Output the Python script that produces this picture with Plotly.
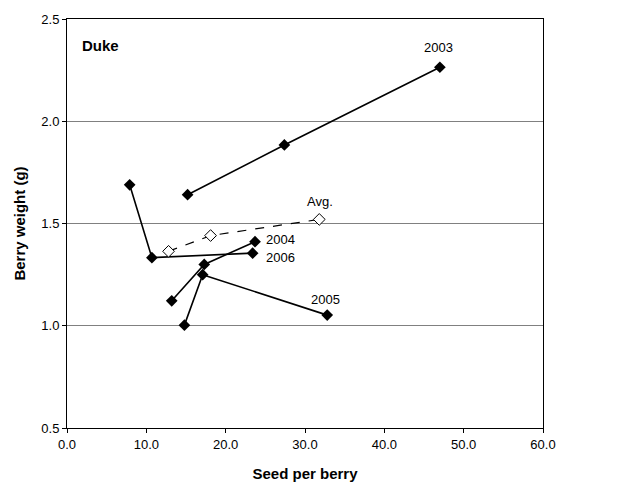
import plotly.graph_objects as go

# Seed per berry (x) and berry weight in g (y) for each year
x_2003 = [15.2, 27.4, 47.0]
y_2003 = [1.641, 1.884, 2.264]
x_2004 = [13.2, 17.3, 23.7]
y_2004 = [1.122, 1.300, 1.411]
x_2005 = [14.8, 17.1, 32.8]
y_2005 = [1.003, 1.250, 1.052]
x_2006 = [7.9, 10.7, 23.4]
y_2006 = [1.689, 1.333, 1.355]
x_avg = [12.8, 18.1, 31.8]
y_avg = [1.364, 1.441, 1.520]

x_ticks = [0, 10, 20, 30, 40, 50, 60]
y_ticks = [0.5, 1.0, 1.5, 2.0, 2.5]

FONT = "Liberation Sans, Arial, sans-serif"

fig = go.Figure()
for xs, ys in [(x_2003, y_2003), (x_2004, y_2004), (x_2005, y_2005), (x_2006, y_2006)]:
    fig.add_trace(go.Scatter(
        x=xs, y=ys, mode="lines+markers",
        line=dict(color="black", width=1.6),
        marker=dict(symbol="diamond", size=9, color="black"),
        showlegend=False, hoverinfo="x+y"))

fig.add_trace(go.Scatter(
    x=x_avg, y=y_avg, mode="lines+markers",
    line=dict(color="black", width=1.2, dash="dash"),
    marker=dict(symbol="diamond", size=9, color="white",
                line=dict(color="black", width=1)),
    showlegend=False, hoverinfo="x+y"))

labels = [("2003", 46.8, 2.36), ("Avg.", 31.9, 1.61), ("2004", 26.9, 1.423),
          ("2006", 26.9, 1.333), ("2005", 32.6, 1.127)]
for txt, lx, ly in labels:
    fig.add_annotation(x=lx, y=ly, xref="x", yref="y", text=txt, showarrow=False,
                       font=dict(family=FONT, size=13, color="black"))

fig.add_annotation(x=0.027, y=0.935, xref="paper", yref="paper", text="<b>Duke</b>",
                   showarrow=False, xanchor="left", yanchor="middle",
                   font=dict(family=FONT, size=15, color="black"))

fig.update_xaxes(range=[0, 60], tickvals=x_ticks,
                 ticktext=[f"{v:.1f}" for v in x_ticks],
                 showgrid=False, zeroline=False, showline=True, mirror=True,
                 linecolor="black", linewidth=1, ticks="outside", ticklen=4,
                 tickcolor="black",
                 tickfont=dict(family=FONT, size=13, color="black"),
                 title=dict(text="<b>Seed per berry</b>",
                            font=dict(family=FONT, size=15, color="black"),
                            standoff=17))
fig.update_yaxes(range=[0.5, 2.5], tickvals=y_ticks,
                 ticktext=[f"{v:.1f}" for v in y_ticks],
                 showgrid=True, gridcolor="#808080", gridwidth=1, zeroline=False,
                 showline=True, mirror=True,
                 linecolor="black", linewidth=1, ticks="outside", ticklen=4,
                 tickcolor="black",
                 tickfont=dict(family=FONT, size=13, color="black"),
                 title=dict(text="<b>Berry weight (g)</b>",
                            font=dict(family=FONT, size=15, color="black"),
                            standoff=12))

fig.update_layout(width=622, height=491, margin=dict(l=67, r=79, t=13, b=60),
                  plot_bgcolor="white", paper_bgcolor="white")

fig.write_html("out.html", config={"displayModeBar": False},
               post_script="document.body.style.margin='0';document.body.style.overflow='hidden';")
